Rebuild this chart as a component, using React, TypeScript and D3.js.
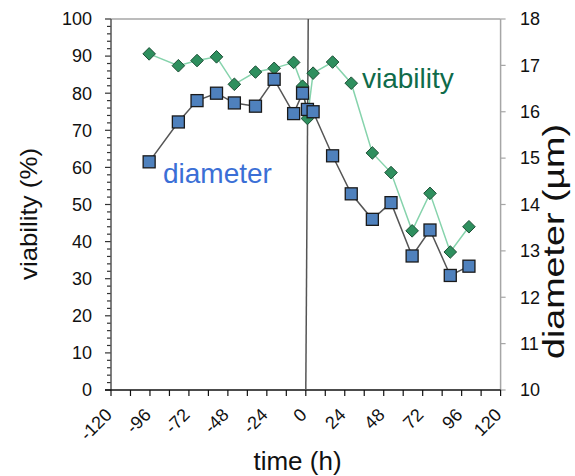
import React from "react";
import * as d3 from "d3";

const times = [-96.5, -78.5, -67, -55, -44, -31, -19.5, -7.5, -2, 1, 4.5, 16.5, 28, 41, 52.5, 65.5, 76.5, 89, 100.5];
const viability = [90.6, 87.4, 88.8, 89.8, 82.4, 85.7, 86.7, 88.3, 81.9, 73.2, 85.4, 88.4, 82.7, 63.9, 58.6, 42.9, 53.0, 37.2, 44.0];
const diameter = [14.92, 15.78, 16.24, 16.4, 16.19, 16.12, 16.7, 15.96, 16.4, 16.05, 16.0, 15.05, 14.23, 13.68, 14.04, 12.89, 13.45, 12.47, 12.67];
const xTicks = [-120, -96, -72, -48, -24, 0, 24, 48, 72, 96, 120];
const xMinorTicks = d3.range(-120, 121, 12);
const yLeftTicks = d3.range(0, 101, 10);
const yLeftMinor = d3.range(0, 101, 2);
const yRightTicks = d3.range(10, 19, 1);

const FONT = "'Liberation Sans', Arial, sans-serif";

export default function App() {
  const W = 575, H = 476;
  const left = 111, right = 500.6, top = 19, bottom = 390;
  const x = d3.scaleLinear().domain([-120, 120]).range([left, right]);
  const yL = d3.scaleLinear().domain([0, 100]).range([bottom, top]);
  const yR = d3.scaleLinear().domain([10, 18]).range([bottom, top]);

  const vPts: [number, number][] = times.map((t, i) => [x(t), yL(viability[i])]);
  const dPts: [number, number][] = times.map((t, i) => [x(t), yR(diameter[i])]);
  const line = d3.line();
  const r = 6.3;
  const diamond = `M0,${-r}L${r},0L0,${r}L${-r},0Z`;
  const s = 12;

  return (
    <svg width={W} height={H} style={{ position: "absolute", left: 0, top: 0, background: "#fff" }} fontFamily={FONT}>
      <rect x={0} y={0} width={W} height={H} fill="#fff" />
      {/* frame */}
      <line x1={left} x2={right} y1={top} y2={top} stroke="#a6a6a6" strokeWidth={1.5} />
      <line x1={right} x2={right} y1={top} y2={bottom} stroke="#a6a6a6" strokeWidth={1.5} />
      {/* right ticks */}
      {yRightTicks.map((t) => (
        <g key={"r" + t}>
          <line x1={right} x2={right + 5} y1={yR(t)} y2={yR(t)} stroke="#a6a6a6" strokeWidth={1.2} />
          <text x={520} y={yR(t)} dy="0.35em" fontSize={18} fill="#111">{t}</text>
        </g>
      ))}
      {/* left axis */}
      {yLeftMinor.map((t) => (
        <line key={"lm" + t} x1={left - (t % 10 === 0 ? 6 : 4)} x2={left} y1={yL(t)} y2={yL(t)} stroke="#333" strokeWidth={1.2} />
      ))}
      {yLeftTicks.map((t) => (
        <text key={"lt" + t} x={92} y={yL(t)} dy="0.35em" textAnchor="end" fontSize={18} fill="#111">{t}</text>
      ))}
      <line x1={left} x2={left} y1={top} y2={bottom} stroke="#555" strokeWidth={1.5} />
      {/* bottom axis */}
      {xMinorTicks.map((t) => (
        <line key={"xm" + t} x1={x(t)} x2={x(t)} y1={bottom} y2={bottom + 6} stroke="#111" strokeWidth={1.2} />
      ))}
      <line x1={left - 6} x2={right} y1={bottom} y2={bottom} stroke="#111" strokeWidth={1.5} />
      {xTicks.map((t) => (
        <text key={"xt" + t} transform={`translate(${x(t) + 2},416) rotate(-45)`} textAnchor="end" fontSize={18} fill="#111">{t}</text>
      ))}
      {/* zero line */}
      <line x1={x(1.5)} x2={x(0)} y1={top} y2={bottom} stroke="#555" strokeWidth={1.5} />
      {/* viability series */}
      <path d={line(vPts) || ""} fill="none" stroke="#86d3ac" strokeWidth={1.5} />
      {vPts.map((p, i) => (
        <path key={"v" + i} d={diamond} transform={`translate(${p[0]},${p[1]})`} fill="#2e8f5e" stroke="#1d4f36" strokeWidth={1} />
      ))}
      {/* diameter series */}
      <path d={line(dPts) || ""} fill="none" stroke="#555" strokeWidth={1.5} />
      {dPts.map((p, i) => (
        <rect key={"d" + i} x={p[0] - s / 2} y={p[1] - s / 2} width={s} height={s} fill="#4f81bd" stroke="#1a1a1a" strokeWidth={1.3} />
      ))}
      {/* annotations */}
      <text x={362} y={88} fontSize={28} fill="#0f6b4a">viability</text>
      <text x={163} y={183} fontSize={28} fill="#3b6fd6">diameter</text>
      {/* axis titles */}
      <text transform="translate(37,214) rotate(-90)" textAnchor="middle" fontSize={24} textLength={132} lengthAdjust="spacingAndGlyphs" fill="#111">viability (%)</text>
      <text transform="translate(564,241.5) rotate(-90)" textAnchor="middle" fontSize={30} textLength={235} lengthAdjust="spacingAndGlyphs" fill="#111">diameter (µm)</text>
      <text x={297.5} y={470} textAnchor="middle" fontSize={26} fill="#111">time (h)</text>
    </svg>
  );
}
